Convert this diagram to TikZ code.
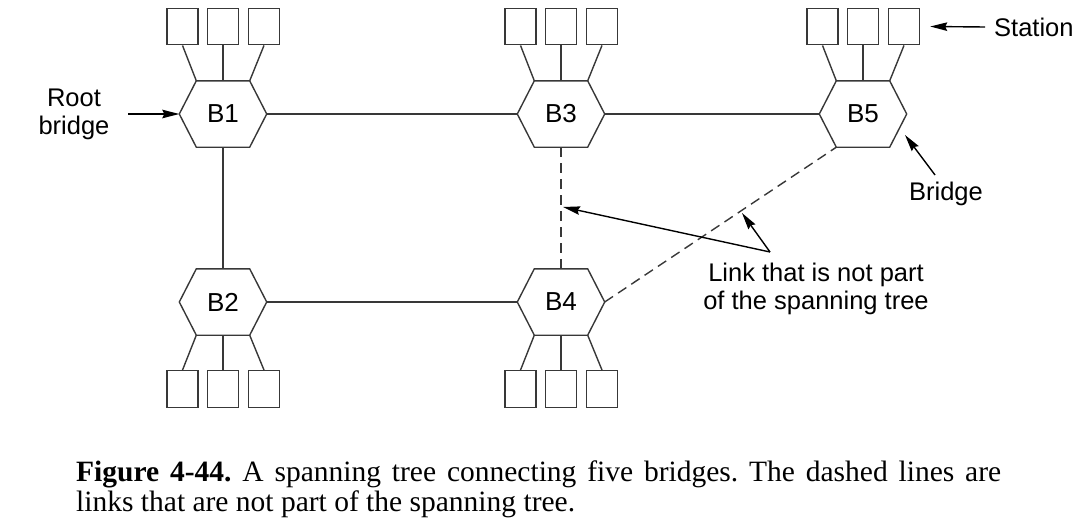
\documentclass[tikz,border=0pt]{standalone}
\usepackage{fontspec}
\setmainfont{Liberation Serif}
\setsansfont{Liberation Sans}
\usetikzlibrary{arrows.meta,calc}
\begin{document}
\frenchspacing
\begin{tikzpicture}[x=1pt,y=-1pt,
  lnk/.style={draw=black!78,line width=1.4pt},
  dlink/.style={lnk,dash pattern=on 10pt off 6pt},
  bridge/.style={minimum width=87pt,minimum height=66pt,inner sep=0pt,
    font=\sffamily\fontsize{26}{28}\selectfont},
  station/.style={draw=black!78,line width=1.4pt,minimum width=31pt,
    minimum height=36.5pt,inner sep=0pt},
  lbl/.style={font=\sffamily\fontsize{25.5}{28}\selectfont,align=center,inner sep=0pt},
  arr/.style={draw=black,line width=1.4pt,-{Stealth[length=17pt,width=8.5pt,inset=2pt]}}]
\useasboundingbox (0,0) rectangle (1084,527);

% bridges
\foreach \n/\x/\y in {B1/223/114,B3/561/114,B5/863/114,B2/223/302,B4/561/302}{
  \node[bridge] (\n) at (\x,\y) {\n};
  \draw[lnk] (\n.west) -- ([xshift=17pt]\n.north west) -- ([xshift=-17pt]\n.north east)
    -- (\n.east) -- ([xshift=-17pt]\n.south east) -- ([xshift=17pt]\n.south west) -- cycle;
}

% stations on top
\foreach \n in {B1,B3,B5}{
  \node[station] (\n a) at ([xshift=-40.5pt,yshift=87.5pt]\n.center) {};
  \node[station] (\n b) at ([yshift=87.5pt]\n.center) {};
  \node[station] (\n c) at ([xshift=41pt,yshift=87.5pt]\n.center) {};
  \draw[lnk] (\n a.south) -- ([xshift=17pt]\n.north west);
  \draw[lnk] (\n b.south) -- (\n.north);
  \draw[lnk] (\n c.south) -- ([xshift=-17pt]\n.north east);
}
% stations below
\foreach \n in {B2,B4}{
  \node[station] (\n a) at ([xshift=-40.5pt,yshift=-87pt]\n.center) {};
  \node[station] (\n b) at ([yshift=-87pt]\n.center) {};
  \node[station] (\n c) at ([xshift=41pt,yshift=-87pt]\n.center) {};
  \draw[lnk] (\n a.north) -- ([xshift=17pt]\n.south west);
  \draw[lnk] (\n b.north) -- (\n.south);
  \draw[lnk] (\n c.north) -- ([xshift=-17pt]\n.south east);
}

% links
\draw[lnk] (B1) -- (B3);
\draw[lnk] (B3) -- (B5);
\draw[lnk] (B1) -- (B2);
\draw[lnk] (B2) -- (B4);
\draw[dlink] (B3) -- (B4);
\draw[dlink] (B4.east) -- ([xshift=17pt]B5.south west);

% labels
\node[lbl] (root) at (74,114.5) {Root\\bridge};
\node[lbl,anchor=west] (station) at (994,27) {Station};
\node[lbl] (bridgelbl) at (946,193.5) {Bridge};
\node[lbl] (linklbl) at (816,289.4) {Link that is not part\\of the spanning tree};

\coordinate (rootS) at (128,114);
\draw[arr] (rootS) -- (B1.west);
\draw[arr] ([xshift=-9pt]station.west) -- ([xshift=10pt]B5c.east);
\coordinate (bridgeS) at (935,175);
\coordinate (bridgeE) at (905,135);
\draw[arr] (bridgeS) -- (bridgeE);
\coordinate (linkS) at (770,252);
\coordinate (linkE1) at (563,207);
\coordinate (linkE2) at (742,213);
\draw[arr] (linkS) -- (linkE1);
\draw[arr] (linkS) -- (linkE2);

% caption
\node[anchor=north west,inner sep=0pt,text width=925pt,align=justify,
  font=\fontsize{29.5}{30}\selectfont] (cap) at (76,460.5)
  {\noindent\textbf{Figure 4-44.} A spanning tree connecting five bridges. The dashed lines are\linebreak links that are not part of the spanning tree.};
\end{tikzpicture}
\end{document}
